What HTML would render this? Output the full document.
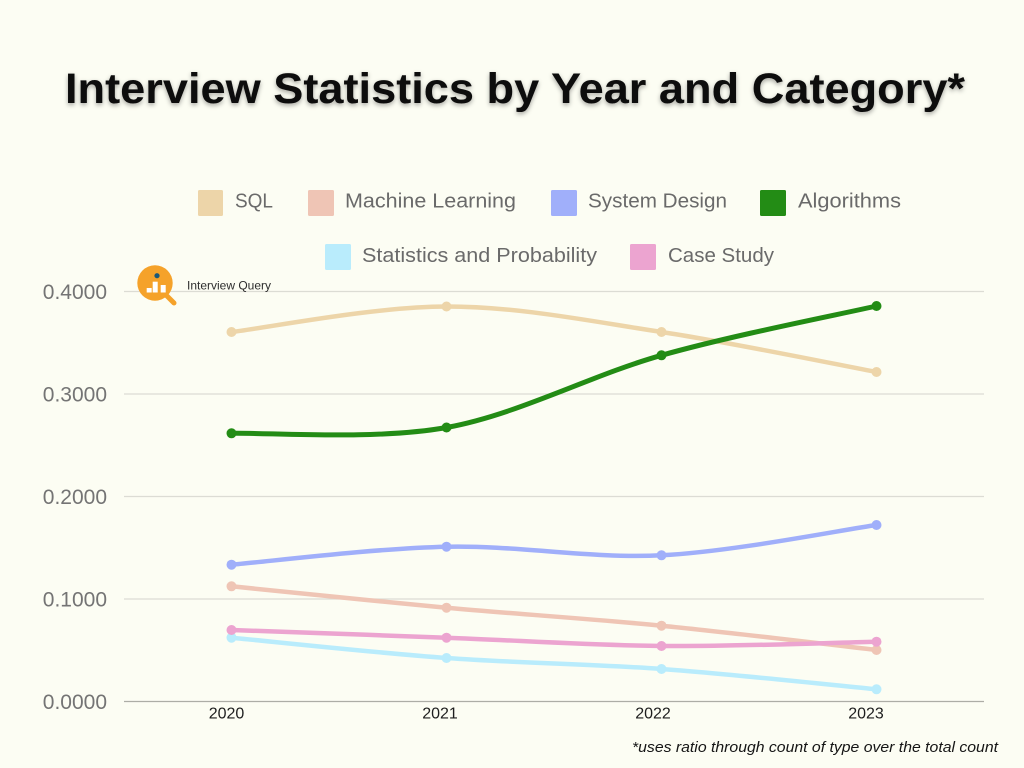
<!DOCTYPE html>
<html><head><meta charset="utf-8"><style>
html,body{margin:0;padding:0;background:#fcfdf3;}
svg{display:block;}
</style></head><body>
<svg width="1024" height="768" viewBox="0 0 1024 768" xmlns="http://www.w3.org/2000/svg">
<defs>
<filter id="sh" x="-5%" y="-30%" width="110%" height="160%">
<feDropShadow dx="0" dy="2" stdDeviation="2.5" flood-color="#000" flood-opacity="0.35"/>
</filter>
</defs>
<rect width="1024" height="768" fill="#fcfdf3"/>
<text x="65" y="103" font-family="Liberation Sans, sans-serif" font-weight="bold" font-size="43" fill="#0a0a0a" textLength="900" lengthAdjust="spacingAndGlyphs" filter="url(#sh)">Interview Statistics by Year and Category*</text>

<!-- legend -->
<g font-family="Liberation Sans, sans-serif" font-size="20.5" fill="#6a6a6a">
<rect x="198" y="190" width="25" height="26" rx="1.5" fill="#edd5a9"/>
<text x="235" y="207.5" textLength="38" lengthAdjust="spacingAndGlyphs">SQL</text>
<rect x="308" y="190" width="26" height="26" rx="1.5" fill="#efc5b5"/>
<text x="345" y="207.5" textLength="171" lengthAdjust="spacingAndGlyphs">Machine Learning</text>
<rect x="551" y="190" width="26" height="26" rx="1.5" fill="#a0affa"/>
<text x="588" y="207.5" textLength="139" lengthAdjust="spacingAndGlyphs">System Design</text>
<rect x="760" y="190" width="26" height="26" rx="1.5" fill="#238c15"/>
<text x="798" y="207.5" textLength="103" lengthAdjust="spacingAndGlyphs">Algorithms</text>
<rect x="325" y="244" width="26" height="26" rx="1.5" fill="#b9ecfc"/>
<text x="362" y="262" textLength="235" lengthAdjust="spacingAndGlyphs">Statistics and Probability</text>
<rect x="630" y="244" width="26" height="26" rx="1.5" fill="#eca4d0"/>
<text x="668" y="262" textLength="106" lengthAdjust="spacingAndGlyphs">Case Study</text>
</g>

<!-- grid -->
<g stroke="#dcdcd4" stroke-width="1.2">
<line x1="124" y1="291.5" x2="984" y2="291.5"/>
<line x1="124" y1="394" x2="984" y2="394"/>
<line x1="124" y1="496.5" x2="984" y2="496.5"/>
<line x1="124" y1="599" x2="984" y2="599"/>
</g>
<line x1="124" y1="701.5" x2="984" y2="701.5" stroke="#adada6" stroke-width="1.3"/>

<!-- y labels -->
<g font-family="Liberation Sans, sans-serif" font-size="21" fill="#747474" text-anchor="end">
<text x="107" y="299">0.4000</text>
<text x="107" y="401.5">0.3000</text>
<text x="107" y="504">0.2000</text>
<text x="107" y="606.5">0.1000</text>
<text x="107" y="709">0.0000</text>
</g>
<!-- x labels -->
<g font-family="Liberation Sans, sans-serif" font-size="16" fill="#1e1e1e" text-anchor="middle">
<text x="226.5" y="718.5">2020</text>
<text x="440" y="718.5">2021</text>
<text x="653" y="718.5">2022</text>
<text x="866" y="718.5">2023</text>
</g>

<!-- logo -->
<g>
<path d="M166 295 L174 303" stroke="#f5a22a" stroke-width="5" stroke-linecap="round"/>
<circle cx="155" cy="283" r="17.7" fill="#f5a22a"/>
<rect x="146.7" y="288" width="5" height="4.5" fill="#fff"/>
<rect x="152.7" y="281.7" width="5" height="10.8" fill="#fff"/>
<rect x="160.7" y="285" width="5" height="7.5" fill="#fff"/>
<circle cx="157" cy="275.7" r="2.6" fill="#1b5878"/>
<text x="187" y="289.3" font-family="Liberation Sans Narrow, Liberation Sans, sans-serif" font-size="12" fill="#2d2d2d" textLength="84" lengthAdjust="spacingAndGlyphs">Interview Query</text>
</g>

<!-- series -->
<g fill="none" stroke-linecap="round" stroke-linejoin="round">
<path stroke="#edd5a9" stroke-width="4.5" d="M231.5 332 C267.33 327.75 374.83 306.5 446.5 306.5 C518.17 306.5 589.83 321.08 661.5 332 C733.17 342.92 840.67 365.33 876.5 372"/>
<path stroke="#efc5b5" stroke-width="4.5" d="M231.5 586.3 C267.33 589.87 374.83 601.13 446.5 607.7 C518.17 614.27 589.83 618.65 661.5 625.7 C733.17 632.75 840.67 645.95 876.5 650"/>
<path stroke="#a0affa" stroke-width="4.5" d="M231.5 564.7 C267.33 561.7 374.83 548.27 446.5 546.7 C518.17 545.13 589.83 558.92 661.5 555.3 C733.17 551.68 840.67 530.05 876.5 525"/>
<path stroke="#238c15" stroke-width="5" d="M231.5 433.3 C267.33 432.33 374.83 440.5 446.5 427.5 C518.17 414.5 589.83 375.55 661.5 355.3 C733.17 335.05 840.67 314.22 876.5 306"/>
<path stroke="#b9ecfc" stroke-width="4.5" d="M231.5 637.7 C267.33 641.08 374.83 652.78 446.5 658 C518.17 663.22 589.83 663.78 661.5 669 C733.17 674.22 840.67 685.92 876.5 689.3"/>
<path stroke="#eca4d0" stroke-width="4.5" d="M231.5 630 C267.33 631.28 374.83 635.03 446.5 637.7 C518.17 640.37 589.83 645.33 661.5 646 C733.17 646.67 840.67 642.42 876.5 641.7"/>
</g>
<g>
<g fill="#edd5a9"><circle cx="231.5" cy="332" r="5"/><circle cx="446.5" cy="306.5" r="5"/><circle cx="661.5" cy="332" r="5"/><circle cx="876.5" cy="372" r="5"/></g>
<g fill="#efc5b5"><circle cx="231.5" cy="586.3" r="5"/><circle cx="446.5" cy="607.7" r="5"/><circle cx="661.5" cy="625.7" r="5"/><circle cx="876.5" cy="650" r="5"/></g>
<g fill="#a0affa"><circle cx="231.5" cy="564.7" r="5"/><circle cx="446.5" cy="546.7" r="5"/><circle cx="661.5" cy="555.3" r="5"/><circle cx="876.5" cy="525" r="5"/></g>
<g fill="#238c15"><circle cx="231.5" cy="433.3" r="5"/><circle cx="446.5" cy="427.5" r="5"/><circle cx="661.5" cy="355.3" r="5"/><circle cx="876.5" cy="306" r="5"/></g>
<g fill="#b9ecfc"><circle cx="231.5" cy="637.7" r="5"/><circle cx="446.5" cy="658" r="5"/><circle cx="661.5" cy="669" r="5"/><circle cx="876.5" cy="689.3" r="5"/></g>
<g fill="#eca4d0"><circle cx="231.5" cy="630" r="5"/><circle cx="446.5" cy="637.7" r="5"/><circle cx="661.5" cy="646" r="5"/><circle cx="876.5" cy="641.7" r="5"/></g>
</g>

<text x="632" y="752" font-family="Liberation Sans, sans-serif" font-style="italic" font-size="15" fill="#151515" textLength="366" lengthAdjust="spacingAndGlyphs">*uses ratio through count of type over the total count</text>
</svg>
</body></html>
